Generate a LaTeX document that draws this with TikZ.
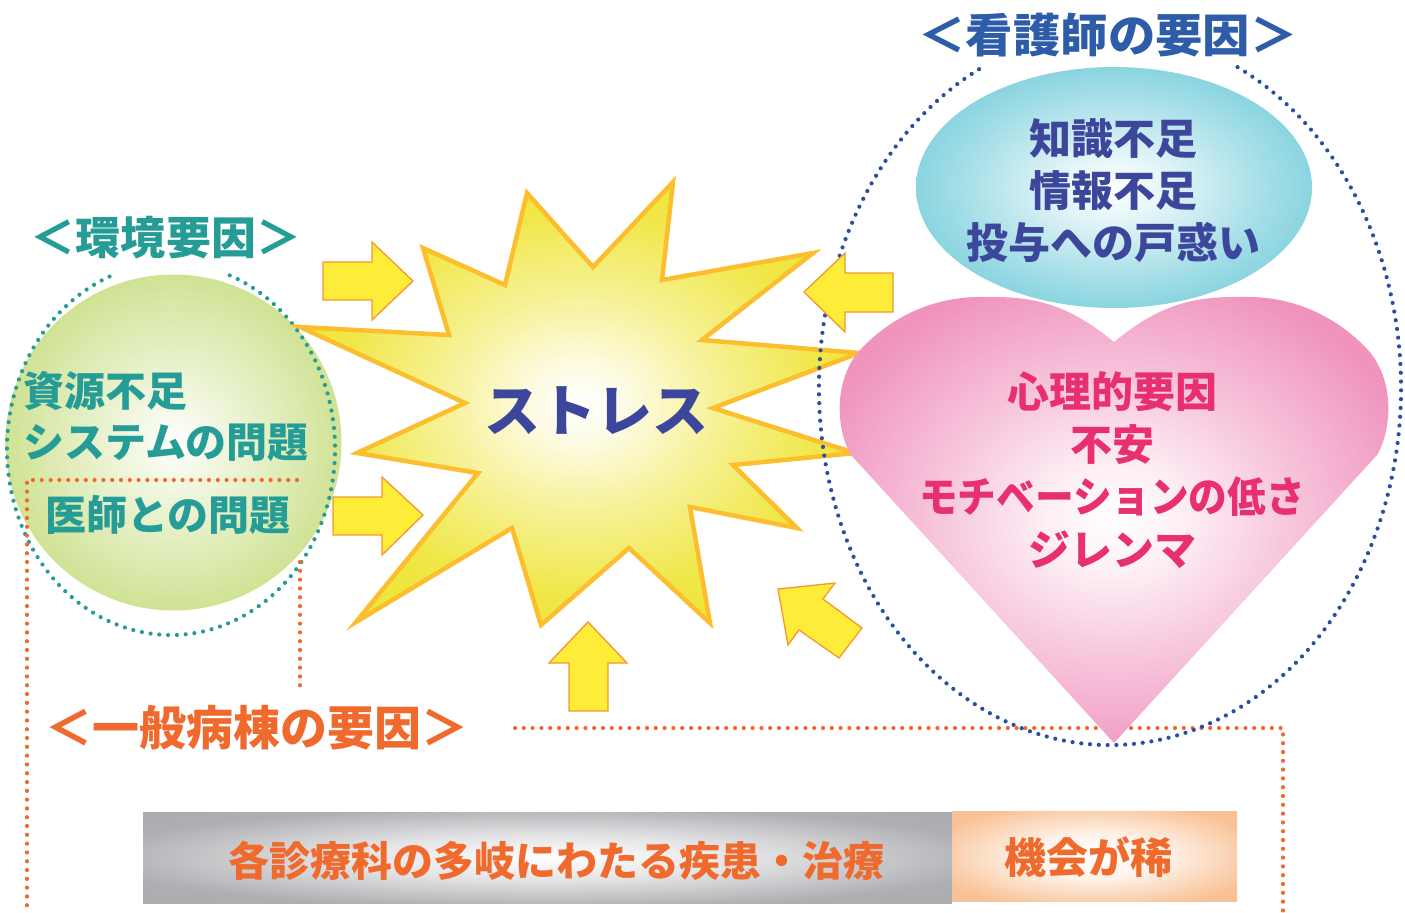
\documentclass[tikz,border=0pt]{standalone}
\usepackage{fontspec}
\setmainfont{Noto Sans CJK JP}
\newcommand\jfs[2]{\fontsize{#1bp}{#2bp}\selectfont\bfseries}
\definecolor{cTeal}{RGB}{38,156,150}
\definecolor{cBlueT}{RGB}{45,92,168}
\definecolor{cNavy}{RGB}{60,70,155}
\definecolor{cPinkT}{RGB}{232,48,112}
\definecolor{cOrange}{RGB}{240,106,46}
\definecolor{cDots}{RGB}{40,80,160}
\definecolor{cGreen}{RGB}{186,214,100}
\definecolor{cYel}{RGB}{253,236,56}
\definecolor{cYelLine}{RGB}{245,150,50}
\definecolor{cStarLine}{RGB}{252,190,45}
\definecolor{cStar}{RGB}{238,228,50}
\definecolor{cHeart}{RGB}{240,148,190}
\definecolor{cCyan}{RGB}{98,198,214}
\definecolor{cGray}{RGB}{165,166,170}
\definecolor{cPeach}{RGB}{249,194,150}
\pgfdeclareradialshading{greenball}{\pgfpoint{0bp}{0bp}}{color(0bp)=(white); color(5bp)=(white!85!cGreen); color(20bp)=(cGreen!55!white); color(36bp)=(cGreen); color(50bp)=(cGreen)}
\pgfdeclareradialshading{cyanball}{\pgfpoint{0bp}{0bp}}{color(0bp)=(white); color(6bp)=(white!85!cCyan); color(20bp)=(cCyan!60!white); color(34bp)=(cCyan); color(50bp)=(cCyan)}
\pgfdeclareradialshading{heartball}{\pgfpoint{0bp}{0bp}}{color(0bp)=(white); color(6bp)=(white!85!cHeart); color(16bp)=(cHeart!55!white); color(28bp)=(cHeart); color(50bp)=(cHeart)}
\pgfdeclareradialshading{starball}{\pgfpoint{0bp}{0bp}}{color(0bp)=(white); color(4bp)=(white!88!cStar); color(12bp)=(cStar!50!white); color(22bp)=(cStar!90!white); color(34bp)=(cStar); color(50bp)=(cStar)}
\pgfdeclareradialshading{grayball}{\pgfpoint{0bp}{0bp}}{color(0bp)=(white); color(12bp)=(white!70!cGray); color(28bp)=(cGray!90!white); color(50bp)=(cGray)}
\pgfdeclareradialshading{peachball}{\pgfpoint{0bp}{0bp}}{color(0bp)=(white); color(12bp)=(white!80!cPeach); color(30bp)=(cPeach); color(50bp)=(cPeach)}
\begin{document}
\begin{tikzpicture}[x=1bp,y=-1bp,
  dotline/.style={line width=4.2bp, line cap=round, dash pattern=on 0bp off 8.8bp},
  blockarrow/.style={fill=cYel, draw=cYelLine, line width=1.3bp, line join=miter},
  lbl/.style={inner sep=0pt}]
\useasboundingbox (0,0) rectangle (1405,912);

% left green ball and its dotted outline
\shade[shading=greenball] (173.5,442.5) circle[radius=168];
\draw[dotline, cTeal] (171,449) ++(-69:164 and 186) arc[start angle=-69, end angle=249.3, x radius=164, y radius=186];

% orange dotted frame of the ward factors
\draw[dotline, cOrange] (297,480) -- (27,480) -- (27,912);
\draw[dotline, cOrange] (300,562) -- (300,686);
\draw[dotline, cOrange] (515,728) -- (1283,728) -- (1283,912);

% starburst
\shade[shading=starball] (423,248) -- (505,285) -- (527,193) -- (593,267) -- (673,182) -- (662,280) -- (813,253) -- (702,340) -- (859,353) -- (713,408) -- (855,453) -- (733,465) -- (797,528) -- (690,507) -- (710,623) -- (629,548) -- (541,625) -- (512,528) -- (356,622) -- (478,473) -- (357,453) -- (465,403) -- (300,327) -- (449,335) -- cycle;
\draw[cStarLine, line width=4.5bp, line join=miter] (423,248) -- (505,285) -- (527,193) -- (593,267) -- (673,182) -- (662,280) -- (813,253) -- (702,340) -- (859,353) -- (713,408) -- (855,453) -- (733,465) -- (797,528) -- (690,507) -- (710,623) -- (629,548) -- (541,625) -- (512,528) -- (356,622) -- (478,473) -- (357,453) -- (465,403) -- (300,327) -- (449,335) -- cycle;

% nurse factors: dotted outline
\draw[dotline, cDots] (1110,388) ++(-64:291 and 357) arc[start angle=-64, end angle=244, x radius=291, y radius=357];

% cyan ellipse
\shade[shading=cyanball] (1114,187.5) ellipse[x radius=198, y radius=120.5];

% heart
\shade[shading=heartball] (1114,342) .. controls (1063,300) and (1028,296) .. (977,297)
  .. controls (928,298) and (888,320) .. (860,350)
  .. controls (833,380) and (836,430) .. (851,455)
  -- (1114,743) -- (1377,455)
  .. controls (1392,430) and (1395,380) .. (1368,350)
  .. controls (1340,320) and (1300,298) .. (1251,297)
  .. controls (1200,296) and (1165,300) .. cycle;

% block arrows
\draw[blockarrow] (323,262) -- (372,262) -- (372,242) -- (413,281) -- (372,320) -- (372,300) -- (323,300) -- cycle;
\draw[blockarrow] (333,497) -- (382,497) -- (382,477) -- (423,515) -- (382,555) -- (382,535) -- (333,535) -- cycle;
\draw[blockarrow] (893,273) -- (845,273) -- (845,253) -- (804,292) -- (845,332) -- (845,312) -- (893,312) -- cycle;
\draw[blockarrow] (778,589) -- (835,583) -- (823,599) -- (862,628) -- (839,658) -- (799,630) -- (788,645) -- cycle;
\draw[blockarrow] (588,622) -- (627,663) -- (608,663) -- (608,711) -- (569,711) -- (569,663) -- (549,663) -- cycle;

% bottom boxes
\shade[shading=grayball] (143,812) rectangle (952,903);
\shade[shading=peachball] (952,811) rectangle (1237,901);

% titles
\node[lbl, text=cTeal, font=\jfs{45}{54}] (tEnv) at (166,238) {＜環境要因＞};
\node[lbl, text=cBlueT, font=\jfs{46}{54}] (tNurse) at (1108,35) {\scalebox{1.03}[1]{＜看護師の要因＞}};
\node[lbl, text=cOrange, font=\jfs{47}{54}] (tWard) at (257,728) {＜一般病棟の要因＞};

% left ball texts
\node[lbl, text=cTeal, font=\jfs{41}{50}, anchor=west] (g1) at (23,391) {資源不足};
\node[lbl, text=cTeal, font=\jfs{41}{50}, anchor=west] (g2) at (23,443) {システムの問題};
\node[lbl, text=cTeal, font=\jfs{41}{50}] (g3) at (168,515) {医師との問題};

% stress
\node[lbl, text=cNavy, font=\jfs{56}{60}] (stress) at (596,411) {ストレス};

% cyan texts
\node[lbl, text=cNavy, font=\jfs{42}{52}, align=center] (cyanTxt) at (1113,191) {知識不足\\情報不足\\投与への戸惑い};

% heart texts
\node[lbl, text=cPinkT, font=\jfs{42}{52.5}, align=center] (heartTxt) at (1112,470) {心理的要因\\不安\\\scalebox{0.92}[1]{モチベーションの低さ}\\ジレンマ};

% bottom texts
\node[lbl, text=cOrange, font=\jfs{41}{50}] (bGray) at (556,861) {各診療科の多岐にわたる疾患・治療};
\node[lbl, text=cOrange, font=\jfs{42}{50}] (bPeach) at (1088,857) {機会が稀};
\end{tikzpicture}
\end{document}
